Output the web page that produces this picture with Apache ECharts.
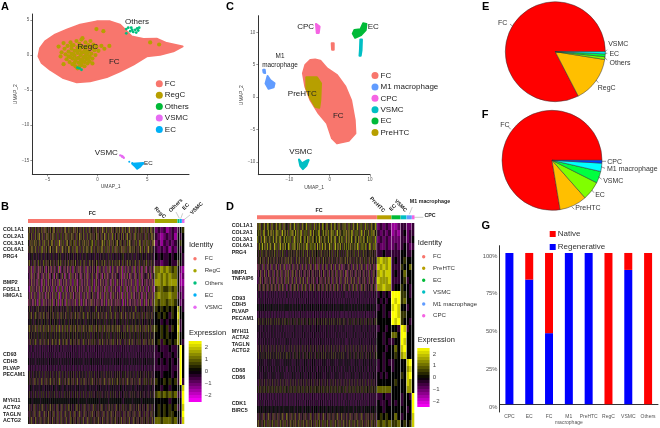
<!DOCTYPE html>
<html><head><meta charset="utf-8">
<style>html,body{margin:0;padding:0;background:#fff}#c{width:660px;height:428px;filter:blur(0.55px)}</style>
<script src="https://cdn.jsdelivr.net/npm/echarts@6/dist/echarts.min.js"></script>
</head><body><div id="c"></div>
<script>
// ---------- Panel A data ----------
const fcOutlineA=[[-5.92,-0.19],[-5.75,1.0],[-5.25,1.95],[-4.25,2.9],[-3.08,3.61],[-1.74,4.32],[-0.07,4.8],[1.27,4.8],[2.27,4.32],[2.78,3.61],[3.44,2.66],[4.62,2.28],[5.95,2.33],[6.96,1.71],[8.56,1.23],[7.63,0.52],[6.29,0.05],[4.95,-0.19],[3.61,-1.38],[2.27,-2.33],[0.94,-3.13],[-0.74,-3.75],[-2.07,-3.89],[-3.41,-3.28],[-4.75,-2.09],[-5.59,-1.14]];
const regcPoints=[[-3.9,1.2],[-3.6,0.4],[-3.7,-0.2],[-3.4,1.7],[-3.3,0.9],[-3.2,0.1],[-3.1,-0.6],[-3.0,1.3],[-2.9,0.5],[-2.9,-0.2],[-2.8,-1.0],[-2.7,1.8],[-2.6,0.9],[-2.6,0.2],[-2.5,-0.5],[-2.5,-1.3],[-2.4,1.4],[-2.3,0.6],[-2.3,-0.1],[-2.2,-0.8],[-2.2,-1.6],[-2.1,2.0],[-2.0,1.1],[-2.0,0.3],[-1.9,-0.4],[-1.9,-1.1],[-1.8,1.6],[-1.8,0.7],[-1.7,0.0],[-1.7,-0.7],[-1.6,-1.4],[-1.5,2.4],[-1.5,1.2],[-1.4,0.4],[-1.4,-0.3],[-1.3,-1.0],[-1.3,-1.6],[-1.2,1.8],[-1.2,0.8],[-1.1,0.1],[-1.1,-0.6],[-1.0,-1.2],[-0.9,1.4],[-0.9,0.5],[-0.8,-0.2],[-0.8,-0.9],[-0.7,2.0],[-0.6,1.0],[-0.6,0.2],[-0.5,-0.5],[-0.4,1.5],[-0.3,0.7],[-0.2,0.0],[-0.1,1.2],[0.1,0.6],[0.4,1.3],[0.7,0.9],[1.2,1.3],[-3.4,-1.3],[-2.0,-1.9],[-0.5,-1.2],[-2.7,-0.3],[-2.4,0.1],[-2.1,-0.5],[-2.0,0.8],[-1.8,-1.6],[-1.6,0.3],[-1.5,-0.8],[-1.3,0.6],[-1.2,-0.2],[-1.0,0.3],[-0.9,-0.5],[-1.6,-1.0],[-2.3,-1.1],[-2.6,1.3],[-1.7,1.0],[-1.1,1.1],[-0.1,3.7],[-1.6,2.2],[5.3,1.8],[6.2,1.5],[0.6,3.4]];
const othersPoints=[[3.8,3.6],[4,3.8],[3.6,3.3],[4.1,3.5],[3.9,3.2],[3.5,3.6],[4.2,3.9],[3.3,3.4],[2.9,3.7],[3.1,3.9],[2.9,3.1],[3.4,3.9],[-2,-1.8],[-1.8,-1.9],[-1.6,-2.1]];
const vsmcPointsA=[[2.3,-14.3],[2.45,-14.4],[2.55,-14.5],[2.65,-14.65],[2.5,-14.5]];
const ecOutlineA=[[3.5,-15.5],[4.6,-15.4],[4.3,-15.9],[4.0,-16.2],[3.8,-15.9]];
const ecPointsA=[[3.5,-15.4],[3.2,-15.2],[4.6,-15.5],[4.0,-16.0]];
// ---------- Panel C data ----------
const fcOutlineC=[[-4.8,5.72],[-3.6,5.8],[-2.32,5.62],[-0.66,4.43],[1.82,3.4],[3.89,1.6],[5.3,-0.46],[6.21,-3.56],[6.38,-5.62],[4.72,-6.75],[1.82,-7.16],[0.58,-6.39],[-0.66,-4.07],[-2.73,-2.53],[-4.8,-0.46],[-6.05,1.6],[-6.63,3.66],[-6.05,4.95]];
const fcSmallC=[[0.5,8.3],[1.0,8.3],[1.0,7.3],[0.6,7.3]];
const preHtcOutline=[[-5.8,3.04],[-3.15,3.04],[-2.15,2.11],[-2.32,-0.46],[-2.57,-1.65],[-3.56,-1.49],[-4.8,-0.2],[-5.8,1.34]];
const ecOutlineC=[[6.13,10.36],[7.62,10.46],[8.29,11.39],[9.11,11.29],[8.95,10.36],[7.79,9.57],[6.3,9.15],[5.72,9.8]];
const vsmcOutlineC=[[-7.62,-9.64],[-6.88,-10.26],[-5.8,-9.85],[-5.22,-9.74],[-5.8,-10.62],[-6.63,-11.13],[-7.29,-10.62]];
const vsmcStripC=[[7.6,8.9],[8.0,8.9],[7.9,7.2],[7.7,6.4],[7.4,6.4],[7.5,7.2]];
const cpcOutline=[[-3.4,11.3],[-2.5,10.9],[-2.7,9.9],[-3.2,9.9]];
const m1Outline=[[-15.4,3.25],[-14.75,2.63],[-13.67,2.11],[-13.9,1.5],[-15.16,1.29],[-15.9,2.11]];
const m1Small=[[-16.5,4.2],[-16.1,4.2],[-16.0,3.7],[-16.4,3.8]];
// ---------- Panel B heatmap: FC|RegC|Others,EC,VSMC, one digit per cell, value=(digit-5)/2 ----------
const genesB=['COL1A1','COL2A1','COL3A1','COL6A1','PRG4','','','','BMP2','FOSL1','HMGA1','','','','','','','','','CD93','CDH5','PLVAP','PECAM1','','','','MYH11','ACTA2','TAGLN','ACTG2'];
const rowsB=[
"647464756447564746457464847465746475648474564746|34342343|456",
"746457464647456748456474645847465746474856447564|43234342|545",
"564746475846475647464574864756474658474647564748|34243434|565",
"475647485647464574647584746475647485464756484746|43434243|545",
"454545654545465445456454546545454654456454545465|54544545|554",
"647454654746454765464547654746465474654745646475|44344544|654",
"364637253746354726374635473625374637254736354627|77878767|532",
"453637264735463726453637254736472635463725473645|78787877|523",
"463527364735263746352736473526374635273647352637|88787888|522",
"352746374635274637352647365273647352637463527463|67766767|533",
"463637254736463527364736352746374635273647463527|78777877|443",
"374635273647352637463527364735264736472635473626|76776776|534",
"546454654545465745454654564545465465745454654645|65656565|854",
"465647454657465464746547465464745465647454657464|56565465|955",
"545565454654555645546545565456454565545465556454|55454555|845",
"647465475647464756474657464756474647564746574647|65656465|945",
"456546545645654565456546456545654656454565465456|55656555|855",
"464745464657464546474654746456474546474657464547|56465656|854",
"445444545444454454445444544454445445444544454445|45444544|5a5",
"454445444544544454445445444544454454454445444544|44544454|5a5",
"554545455454545545545455454554545545455454554545|45454545|4a5",
"444544454445444454445444544445444544454445444454|44444544|4a5",
"546454564545645456454564546454654564546454564546|55455545|4a5",
"564645464746456464547464564746456474654745645647|65565656|4a4",
"454555454545545454555454545545455454545554545455|55455455|559",
"546454564546454564546546454564546454654564546454|67676767|44a",
"555555455555555555545555555555555455555555555555|55555455|55a",
"546464546474564546456474654546456474564645464745|56565656|459",
"464645464746454647464546474645474645647464547464|56565665|55a",
"564647464547464564746454746456474645474645647464|77677767|549"];
const cellsB=[127,22,1.6,1.6,2];
const stripColorsB=['#F8766D','#A3A500','#00BF7D','#00B0F6','#E76BF3'];
const identityB=['FC','RegC','Others','EC','VSMC'];
// ---------- Panel D heatmap: FC|PreHTC|EC|VSMC|M1|CPC ----------
const genesD=['COL1A1','COL2A1','COL3A1','COL6A1','PRG4','','','MMP1','TNFAIP6','','','CD93','CDH5','PLVAP','PECAM1','','MYH11','ACTA2','TAGLN','ACTG2','','','CD68','CD86','','','','CDK1','BIRC5','',''];
const rowsD=[
"746857465758465957564857465758465957564857465|34343|223|44|33|4",
"657586475958465758657495865748596574859657485|43434|232|45|34|4",
"856574865759486575846575965748575958465758657|34343|333|44|34|5",
"475865759657485965748575649586574859657485965|43343|343|45|43|4",
"564654756465476465475646547564754646547564654|44544|444|55|44|5",
"465647546474654647546465474654745465474654746|89889|454|56|55|5",
"374635463746354736453746354637453647354637463|98989|444|65|57|5",
"463547364537463547364536473546374563746354736|89899|454|57|55|5",
"354637463546374635473654736453746354736453746|98889|444|56|45|5",
"546374564736456374654736456374563746547364563|88988|455|65|54|5",
"445454445444544445444544544454445444544454445|45454|aaa|66|54|5",
"454445445444544544454445444544544454445444544|54545|a9a|67|55|5",
"555455545554555455545555455545554555455545555|45455|9a9|55|45|5",
"444544454445444454445444544445444544454445444|55454|aa9|66|55|5",
"546465456465546456546465456546456465546456465|55555|a9a|65|54|5",
"545454454545445454454545445454454545445454454|45545|554|a9|45|5",
"454544545445454454544545445454454544545445454|55455|775|aa|55|5",
"445454454544545445454454544545445454454544545|55454|455|a9|55|5",
"464546454645464546454645464546454645464546454|55545|575|9a|55|5",
"546455465465546456546455465546456546455465546|55455|565|89|55|5",
"454545545454454545545454454545545454454545545|45454|455|55|9a|5",
"455445544554455445544554455445544554455445544|45455|455|55|89|5",
"545454454545545454454545545454454545545454454|54545|555|65|9a|5",
"454645464546454645464546454645464546454645464|55555|565|55|98|5",
"564656465646564656465646564656465646564656465|77777|555|55|88|5",
"445444544454445444544454445444544454445444544|44544|555|45|54|a",
"454445445444544544454445444544544454445444544|54454|545|45|55|a",
"555545555455555545555455555545555455555545555|55455|555|55|45|a",
"464645464746454647464546474645474645647464547|56565|575|45|55|9",
"647465474657464756474657464756474647564746574|76767|667|56|56|9"];
const cellsD=[119,13.6,8.6,5.2,4.6,2];
const stripColorsD=['#F8766D','#B79F00','#00BA38','#00BFC4','#619CFF','#F564E3'];
const identityD=['FC','PreHTC','EC','VSMC','M1 macrophage','CPC'];
const colorbarValues=[-2.5,-2.25,-2,-1.75,-1.5,-1.25,-1,-0.75,-0.5,-0.25,0,0.25,0.5,0.75,1,1.25,1.5,1.75,2,2.25,2.5];
// ---------- Pies ----------
const pieE=[['FC',82.6],['RegC',14.9],['Others',0.9],['EC',0.9],['VSMC',0.7]];
const pieEColors=['#FF0000','#FFBF00','#80FF00','#00FF40','#00FFFF'];
const pieF=[['FC',77.6],['PreHTC',8.9],['EC',6.1],['VSMC',3.8],['M1 macrophage',2.7],['CPC',0.9]];
const pieFColors=['#FF0000','#FFBF00','#80FF00','#00FF40','#00FFFF','#0040FF'];
// ---------- Panel G ----------
const gCategories=['CPC','EC','FC','M1\nmacrophage','PreHTC','RegC','VSMC','Others'];
const gRegenerative=[100,82.4,47,100,100,0,88.8,0];
const gNative=[0,17.6,53,0,0,100,11.2,100];

const FF='"Liberation Sans",Arial,sans-serif';
const AXC='#333', TICKC='#555';
const mm=s=>String(s).replace('-','\u2212');

function polySeries(name,outlines,color,xi,yi,z){
  const flat=[].concat(...outlines);
  return {type:'custom',name,xAxisIndex:xi,yAxisIndex:yi,z:z||1,animation:false,silent:true,clip:false,progressive:0,itemStyle:{color},
    encode:{x:0,y:1},data:flat,
    renderItem(p,api){ if(p.dataIndex>0) return null;
      return {type:'group',children:outlines.map(o=>({type:'polygon',shape:{points:o.map(q=>api.coord(q))},style:{fill:color,stroke:color,lineWidth:2,lineJoin:'round'}}))};}};
}
function ptSeries(name,data,color,size,xi,yi){
  return {type:'scatter',name,xAxisIndex:xi,yAxisIndex:yi,z:5,data,symbolSize:size,itemStyle:{color,opacity:1},animation:false,silent:true,progressive:0};
}
function cellRender(h){return function(p,api){
  const a=api.coord([api.value(0),api.value(2)]),b=api.coord([api.value(1),api.value(2)+h]);
  const x0=Math.min(a[0],b[0]),x1=Math.max(a[0],b[0]),y0=Math.round(Math.min(a[1],b[1])),y1=Math.round(Math.max(a[1],b[1]));
  return {type:'rect',shape:{x:x0,y:y0,width:x1-x0+0.3,height:y1-y0},style:{fill:api.visual('color')}};
};}
function heatCells(rows,cells,gap){
  const out=[];
  rows.forEach((row,r)=>{
    const parts=row.split('|');
    let segs;
    if(parts.length===3&&cells.length===5){segs=[parts[0],parts[1],parts[2][0],parts[2][1],parts[2][2]];}
    else segs=parts;
    // the FC block holds far more cells than pixels: its row is laid out again reversed and rotated
    const f=segs[0],rev=f.split('').reverse().join('');
    segs[0]=f+rev+f.slice(7)+f.slice(0,7)+rev.slice(13)+rev.slice(0,13);
    let x=0;
    segs.forEach((s,c)=>{
      const w=cells[c]/s.length;
      for(let i=0;i<s.length;i++){
        const v=(parseInt(s[i],16)-5)/2;
        out.push([x+i*w,x+(i+1)*w,r,v]);
      }
      x+=cells[c]+gap;
    });
  });
  return out;
}
function stripCells(cells,gap){
  let x=0;return cells.map((w,i)=>{const d={value:[x,x+w,0]};x+=w+gap;return d;});
}
function total(cells,gap){return cells.reduce((a,b)=>a+b,0)+gap*(cells.length-1);}

const grid=[],xAxis=[],yAxis=[],series=[],heatIdx=[];
function add(g,x,y){grid.push(g);const gi=grid.length-1;
  const xs=[].concat(x),ys=[].concat(y);
  const xi=xAxis.length,yi=yAxis.length;
  xs.forEach(a=>xAxis.push(Object.assign({gridIndex:gi},a)));
  ys.forEach(a=>yAxis.push(Object.assign({gridIndex:gi},a)));
  return {xi,yi};
}
const hidden={type:'value',show:false,splitLine:{show:false}};
function umapAxis(min,max,ticks,name,gap){return {type:'value',min,max,name,nameLocation:'middle',nameGap:gap,
  nameTextStyle:{fontFamily:FF,fontSize:5,color:'#444'},splitLine:{show:false},
  axisLine:{show:true,onZero:false,lineStyle:{color:AXC,width:1}},
  axisTick:{show:true,length:2,lineStyle:{color:AXC,width:.5},customValues:ticks},
  axisLabel:{fontFamily:FF,fontSize:4.5,color:TICKC,margin:3,customValues:ticks,formatter:mm}};}

// A
const A=add({left:32.3,top:14,width:156.7,height:160.3},umapAxis(-6.54,9.2,[-5,0,5],'UMAP_1',9.5),umapAxis(-17,5.85,[-15,-10,-5,0,5],'UMAP_2',13));
series.push(polySeries('FC',[fcOutlineA],'#F8766D',A.xi,A.yi));
series.push(ptSeries('RegC',regcPoints,'#B79F00',4.2,A.xi,A.yi));
series.push(ptSeries('Others',othersPoints,'#00BF7D',2.8,A.xi,A.yi));
series.push(ptSeries('VSMC',vsmcPointsA,'#E76BF3',2.4,A.xi,A.yi));
series.push(polySeries('EC',[ecOutlineA],'#00B0F6',A.xi,A.yi));
series.push(ptSeries('EC',ecPointsA,'#00B0F6',2,A.xi,A.yi));
// C
const C=add({left:258.3,top:15.7,width:111.7,height:159},umapAxis(-17.7,10,[-10,0,10],'UMAP_1',10),umapAxis(-12,12.57,[-10,-5,0,5,10],'UMAP_2',13));
series.push(polySeries('FC',[fcOutlineC,fcSmallC],'#F8766D',C.xi,C.yi,1));
series.push(polySeries('PreHTC',[preHtcOutline],'#B79F00',C.xi,C.yi,2));
series.push(polySeries('EC',[ecOutlineC],'#00BA38',C.xi,C.yi));
series.push(polySeries('VSMC',[vsmcOutlineC,vsmcStripC],'#00BFC4',C.xi,C.yi));
series.push(polySeries('CPC',[cpcOutline],'#F564E3',C.xi,C.yi));
series.push(polySeries('M1 macrophage',[m1Outline,m1Small],'#619CFF',C.xi,C.yi));

function heatPanel(opts){
  const tot=total(opts.cells,opts.gap);
  const s=add({left:opts.x,top:opts.stripTop,width:opts.w,height:opts.stripH},Object.assign({},hidden,{min:0,max:tot}),Object.assign({},hidden,{min:0,max:1}));
  series.push({type:'custom',name:'strip',xAxisIndex:s.xi,yAxisIndex:s.yi,animation:false,silent:true,progressive:0,encode:{x:[0,1],y:2},
    data:stripCells(opts.cells,opts.gap),
    renderItem(p,api){const a=api.coord([api.value(0),0]),b=api.coord([api.value(1),1]);
      return {type:'rect',shape:{x:a[0],y:b[1],width:b[0]-a[0]+.5,height:a[1]-b[1]},style:{fill:opts.colors[p.dataIndex]}};}});
  const h=add({left:opts.x,top:opts.top,width:opts.w,height:opts.h},Object.assign({},hidden,{min:0,max:tot}),[
    Object.assign({},hidden,{min:0,max:opts.rows.length,inverse:true}),
    {type:'category',inverse:true,data:opts.genes,position:'left',axisLine:{show:false},axisTick:{show:false},splitLine:{show:false},
     axisLabel:{show:true,interval:0,align:'left',margin:opts.labelMargin,fontFamily:FF,fontWeight:'bold',fontSize:5.3,color:'#1a1a1a'}}]);
  heatIdx.push(series.length);
  series.push({type:'custom',name:'heat',xAxisIndex:h.xi,yAxisIndex:h.yi,animation:false,silent:true,progressive:0,encode:{x:[0,1],y:2},
    data:heatCells(opts.rows,opts.cells,opts.gap),renderItem:cellRender(1)});
  const cb=add({left:opts.cbx,top:opts.cbTop,width:opts.cbw,height:opts.cbH},Object.assign({},hidden,{min:0,max:1}),{type:'value',position:'right',min:-2.54,max:2.54,splitLine:{show:false},
    axisLine:{show:false},axisTick:{show:true,inside:true,length:2,lineStyle:{color:'#fff',width:.5},customValues:[-2,-1,0,1,2]},
    axisLabel:{fontFamily:FF,fontSize:6,color:'#444',margin:3.5,customValues:[-2,-1,0,1,2],formatter:mm}});
  heatIdx.push(series.length);
  series.push({type:'custom',name:'bar',xAxisIndex:cb.xi,yAxisIndex:cb.yi,animation:false,silent:true,progressive:0,encode:{x:[0,1],y:2},
    data:colorbarValues.slice(0,-1).map(v=>[0,1,v,v+0.125]),renderItem:cellRender(0.25)});
}
heatPanel({x:28,w:156,top:226.7,h:197.3,stripTop:219,stripH:4,rows:rowsB,genes:genesB,cells:cellsB,gap:.7,colors:stripColorsB,labelMargin:25,cbx:188.7,cbw:12.6,cbTop:340.3,cbH:61.7});
heatPanel({x:257,w:157,top:222.7,h:204,stripTop:215.3,stripH:4,rows:rowsD,genes:genesD,cells:cellsD,gap:.7,colors:stripColorsD,labelMargin:25.3,cbx:417.3,cbw:12,cbTop:347.7,cbH:59.6});

// G
const G=add({left:499.5,top:245.7,width:158.5,height:166.3},
 {type:'category',data:gCategories,axisLine:{show:true,lineStyle:{color:AXC,width:1}},axisTick:{show:false},
  axisLabel:{interval:0,fontFamily:FF,fontSize:5,color:'#555',margin:2,lineHeight:6,verticalAlign:'top'}},
 {type:'value',min:-5.1,max:104.8,splitLine:{show:false},axisLine:{show:true,lineStyle:{color:AXC,width:1}},axisTick:{show:false},
  axisLabel:{fontFamily:FF,fontSize:5.8,color:'#555',margin:2,verticalAlign:'top',customValues:[0,25,50,75,100],formatter:v=>v+'%'}});
series.push({type:'bar',name:'Regenerative',stack:'g',barWidth:8,xAxisIndex:G.xi,yAxisIndex:G.yi,data:gRegenerative,itemStyle:{color:'#0000FF'},animation:false,silent:true});
series.push({type:'bar',name:'Native',stack:'g',barWidth:8,xAxisIndex:G.xi,yAxisIndex:G.yi,data:gNative,itemStyle:{color:'#FF0000'},animation:false,silent:true});

// Pies
function pie(data,colors,center,labels){
  series.push({type:'pie',radius:50,center,startAngle:0,clockwise:false,animation:false,silent:true,avoidLabelOverlap:false,
    data:data.map((d,i)=>({name:d[0],value:d[1],itemStyle:{color:colors[i]}})),
    itemStyle:{borderColor:'#333',borderWidth:.5},
    label:{show:true,position:'outside',fontFamily:FF,fontSize:7,color:'#333'},
    labelLine:{show:false},
    labelLayout:p=>{const q=labels[p.text];return q?{x:q[0],y:q[1],align:'center',verticalAlign:'middle'}:{};}});
}
pie(pieE,pieEColors,[555.3,51.7],{FC:[502.7,23.3],VSMC:[618.3,44],EC:[614.3,54],Others:[620,63],RegC:[606.7,87.7]});
pie(pieF,pieFColors,[552,160.3],{FC:[505,125.3],CPC:[614.7,161.7],'M1 macrophage':[632.3,169],VSMC:[613.3,180.7],EC:[600,195],PreHTC:[588,208.3]});

// Legends
function umapLegend(items,colors,left,top,gap){return {orient:'vertical',left,top,itemWidth:7,itemHeight:7,itemGap:gap,icon:'circle',padding:0,selectedMode:false,
  textStyle:{fontFamily:FF,fontSize:8,color:'#222',padding:[0,0,0,-3]},
  data:items.map((n,i)=>({name:n,itemStyle:{color:colors[i]}}))};}
const legend=[
 umapLegend(['FC','RegC','Others','VSMC','EC'],['#F8766D','#B79F00','#00BA38','#E76BF3','#00B0F6'],155.8,79.8,3.4),
 umapLegend(['FC','M1 macrophage','CPC','VSMC','EC','PreHTC'],['#F8766D','#619CFF','#F564E3','#00BFC4','#00BA38','#B79F00'],371.5,71.5,3.4),
 {orient:'vertical',left:549.7,top:230,itemWidth:6,itemHeight:6,itemGap:5,icon:'rect',padding:0,selectedMode:false,
  textStyle:{fontFamily:FF,fontSize:8,color:'#333',padding:[0,0,0,-3]},data:['Native','Regenerative']}
];

// Text
function T(text,x,y,size,o){o=o||{};return {type:'text',x,y,rotation:o.rot||0,z:50,silent:true,style:{text,fontFamily:FF,fontSize:size,fontWeight:o.bold?'bold':'normal',fill:o.fill||'#222',align:o.align||'center',verticalAlign:'middle'}};}
function L(x1,y1,x2,y2,c){return {type:'line',z:50,silent:true,shape:{x1,y1,x2,y2},style:{stroke:c||'#999',lineWidth:.5}};}
function D(x,y,c){return {type:'circle',z:50,silent:true,shape:{cx:x,cy:y,r:1.7},style:{fill:c}};}
const graphic=[
 T('A',5,7,11,{bold:1,fill:'#000'}),T('B',5,207,11,{bold:1,fill:'#000'}),T('C',230,7,11,{bold:1,fill:'#000'}),T('D',230,207,11,{bold:1,fill:'#000'}),T('E',485.7,7,11,{bold:1,fill:'#000'}),T('F',485,115,11,{bold:1,fill:'#000'}),T('G',485.7,225.7,11,{bold:1,fill:'#000'}),
 T('Others',137,22,8),T('RegC',87.7,47,8),T('FC',114.3,62,8),T('VSMC',106.3,152.7,8),T('EC',148.3,163.3,6.2),
 T('CPC',305.7,27,8),T('EC',373.3,26.7,8),T('M1',280,56.7,6.4),T('macrophage',280,65,6.4),T('PreHTC',302.3,94,8),T('FC',338.3,115.7,8),T('VSMC',300.7,152,8),
 T('FC',92.3,214,5.3,{bold:1}),T('RegC',160,212.7,5.3,{bold:1,rot:-Math.PI/4}),T('Others',175.7,205.5,5.3,{bold:1,rot:Math.PI/4}),T('EC',185.7,206.7,5.3,{bold:1,rot:Math.PI/4}),T('VSMC',196.7,208.3,5.3,{bold:1,rot:Math.PI/4}),
 L(179.3,218.3,176,212),L(180.7,218.7,182.7,213.3),L(182.3,221,190,215),
 T('FC',319,211,5.3,{bold:1}),T('PreHTC',377.3,204.7,5.3,{bold:1,rot:-Math.PI/4}),T('EC',392.7,207.7,5.3,{bold:1,rot:Math.PI/4}),T('VSMC',400.7,205.7,5.3,{bold:1,rot:-Math.PI/4}),T('M1 macrophage',430,201.7,5.3,{bold:1}),T('CPC',430,215.7,5.3,{bold:1}),
 L(409.3,214.3,412.3,207),L(414.3,217.3,423.3,217.3),
 T('Identity',189,245,7.5,{align:'left'}),T('Expression',189,333.3,7.5,{align:'left'}),
 T('Identity',417.7,243.3,7.5,{align:'left'}),T('Expression',417.7,340.3,7.5,{align:'left'}),
 L(510,24,512.7,26.3,'#333'),L(605,51.7,607,49.7,'#333'),L(605,53.3,607.3,53.3,'#333'),L(604.3,57.3,607.3,60,'#333'),L(596,80,598.3,82.7,'#333'),
 L(508.3,126.7,510.7,129.3,'#333'),L(601.7,161.3,606,161.3,'#333'),L(601,166.7,605,168.3,'#333'),L(598.3,176.7,601.7,179.3,'#333'),L(591.7,190,594,192.7,'#333'),L(571.7,206.7,574.3,209.3,'#333')
];
[258.7,270.7,283,295,307.3].forEach((y,i)=>{graphic.push(D(195,y,stripColorsB[i]));graphic.push(T(identityB[i],204.7,y,6.1,{align:'left',fill:'#333'}));});
[256.7,268.3,280.3,292,304,315.7].forEach((y,i)=>{graphic.push(D(423.7,y,stripColorsD[i]));graphic.push(T(identityD[i],433,y,6.1,{align:'left',fill:'#333'}));});

const chart=echarts.init(document.getElementById('c'),null,{renderer:'canvas'});
chart.setOption({animation:false,backgroundColor:'#fff',grid,xAxis,yAxis,series,legend,graphic,
  visualMap:{show:false,seriesIndex:heatIdx,dimension:3,min:-2.5,max:2.5,inRange:{color:['#FF00FF','#000000','#FFFF00']}}});
</script></body></html>
